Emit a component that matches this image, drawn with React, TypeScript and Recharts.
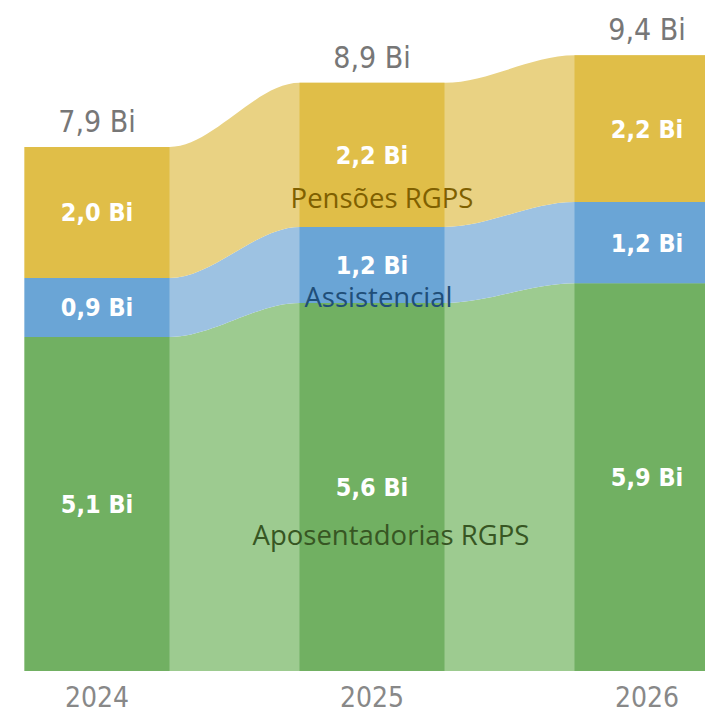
import { ComposedChart, Area, Line, XAxis, YAxis, LabelList } from 'recharts'

// values (bn R$), one entry per year
const years = ['2024', '2025', '2026']
const aposentadorias = [5.1, 5.62, 5.92]
const assistencial = [0.9, 1.16, 1.24]
const pensoes = [2.0, 2.2, 2.24]
const totals = [7.9, 8.9, 9.4]
const seriesNames = ['Aposentadorias RGPS', 'Assistencial', 'Pensões RGPS']

// layout: bar width and distance between bar starts, in x-axis units (1 unit = 1px)
const BAR_W = 145
const STEP = 275

const GREEN = '#71b062'
const GREEN_LIGHT = '#9dcb90'
const BLUE = '#6aa5d6'
const BLUE_LIGHT = '#9dc2e2'
const YELLOW = '#e0be48'
const YELLOW_LIGHT = '#e9d283'

const FONT = '"DejaVu Sans Condensed", "DejaVu Sans", sans-serif'
const OVERLAY_FONT = '"Open Sans", sans-serif'

const fmt = (v: number) => v.toFixed(1).replace('.', ',') + ' Bi'

type Row = Record<string, unknown>
const rows: Row[] = []
years.forEach((_, i) => {
  const ap = aposentadorias[i]
  const as = assistencial[i]
  const pe = pensoes[i]
  const seg = {
    apL: [0, ap], asL: [ap, ap + as], peL: [ap + as, ap + as + pe],
    apD: [0, ap], asD: [ap, ap + as], peD: [ap + as, ap + as + pe],
  }
  const left = i * STEP
  rows.push({ x: left, ...seg })
  rows.push({
    x: left + BAR_W / 2,
    ...seg,
    apMid: ap / 2,
    asMid: ap + as / 2,
    peMid: ap + as + pe / 2,
    top: ap + as + pe,
    apText: fmt(ap),
    asText: fmt(as),
    peText: fmt(pe),
    totalText: fmt(totals[i]),
  })
  rows.push({ x: left + BAR_W, ...seg })
  // empty point in the gap: breaks the bar areas, ribbons connect across it
  if (i < years.length - 1) rows.push({ x: left + BAR_W + (STEP - BAR_W) / 2 })
})

const ticks = years.map((_, i) => i * STEP + BAR_W / 2)

const valueLabel = { fill: '#ffffff', fontFamily: FONT, fontSize: 25, fontWeight: 700 }

// chart is drawn a bit wider than the page so the last bar runs off the right edge
const CHART_W = 725

export default function App() {
  return (
    <div style={{ position: 'fixed', left: 0, top: 0, width: 705, height: 715, overflow: 'hidden', background: '#fff' }}>
      <ComposedChart width={CHART_W} height={715} data={rows} margin={{ top: 16, right: 0, bottom: 0, left: 24.5 }}>
        <XAxis
          type="number"
          dataKey="x"
          domain={[0, CHART_W - 24.5]}
          ticks={ticks}
          tickFormatter={(_v: number, i: number) => years[i]}
          axisLine={false}
          tickLine={false}
          tickMargin={10}
          height={44}
          tick={{ fill: '#888888', fontFamily: FONT, fontSize: 28 }}
        />
        <YAxis hide domain={[0, 10]} />

        <Area type="monotoneX" dataKey="apL" connectNulls stroke="none" fill={GREEN_LIGHT} fillOpacity={1} isAnimationActive={false} />
        <Area type="monotoneX" dataKey="asL" connectNulls stroke="none" fill={BLUE_LIGHT} fillOpacity={1} isAnimationActive={false} />
        <Area type="monotoneX" dataKey="peL" connectNulls stroke="none" fill={YELLOW_LIGHT} fillOpacity={1} isAnimationActive={false} />

        <Area type="linear" dataKey="apD" stroke="none" fill={GREEN} fillOpacity={1} isAnimationActive={false} />
        <Area type="linear" dataKey="asD" stroke="none" fill={BLUE} fillOpacity={1} isAnimationActive={false} />
        <Area type="linear" dataKey="peD" stroke="none" fill={YELLOW} fillOpacity={1} isAnimationActive={false} />

        <Line dataKey="apMid" stroke="none" dot={false} isAnimationActive={false}>
          <LabelList dataKey="apText" position="center" {...valueLabel} />
        </Line>
        <Line dataKey="asMid" stroke="none" dot={false} isAnimationActive={false}>
          <LabelList dataKey="asText" position="center" {...valueLabel} />
        </Line>
        <Line dataKey="peMid" stroke="none" dot={false} isAnimationActive={false}>
          <LabelList dataKey="peText" position="center" {...valueLabel} />
        </Line>
        <Line dataKey="top" stroke="none" dot={false} isAnimationActive={false}>
          <LabelList dataKey="totalText" position="top" offset={15} fill="#777777" fontFamily={FONT} fontSize={30} />
        </Line>
      </ComposedChart>

      {/* series names pasted over the chart, as in the original slide */}
      <svg
        width={705}
        height={715}
        style={{ position: 'absolute', left: 0, top: 0, pointerEvents: 'none' }}
        fontFamily={OVERLAY_FONT}
        fontSize={27.5}
        textAnchor="middle"
      >
        <text x={391} y={545} fill="#375623">{seriesNames[0]}</text>
        <text x={378.5} y={307} fill="#1f4e79">{seriesNames[1]}</text>
        <text x={382} y={208} fill="#7f6000">{seriesNames[2]}</text>
      </svg>
    </div>
  )
}
